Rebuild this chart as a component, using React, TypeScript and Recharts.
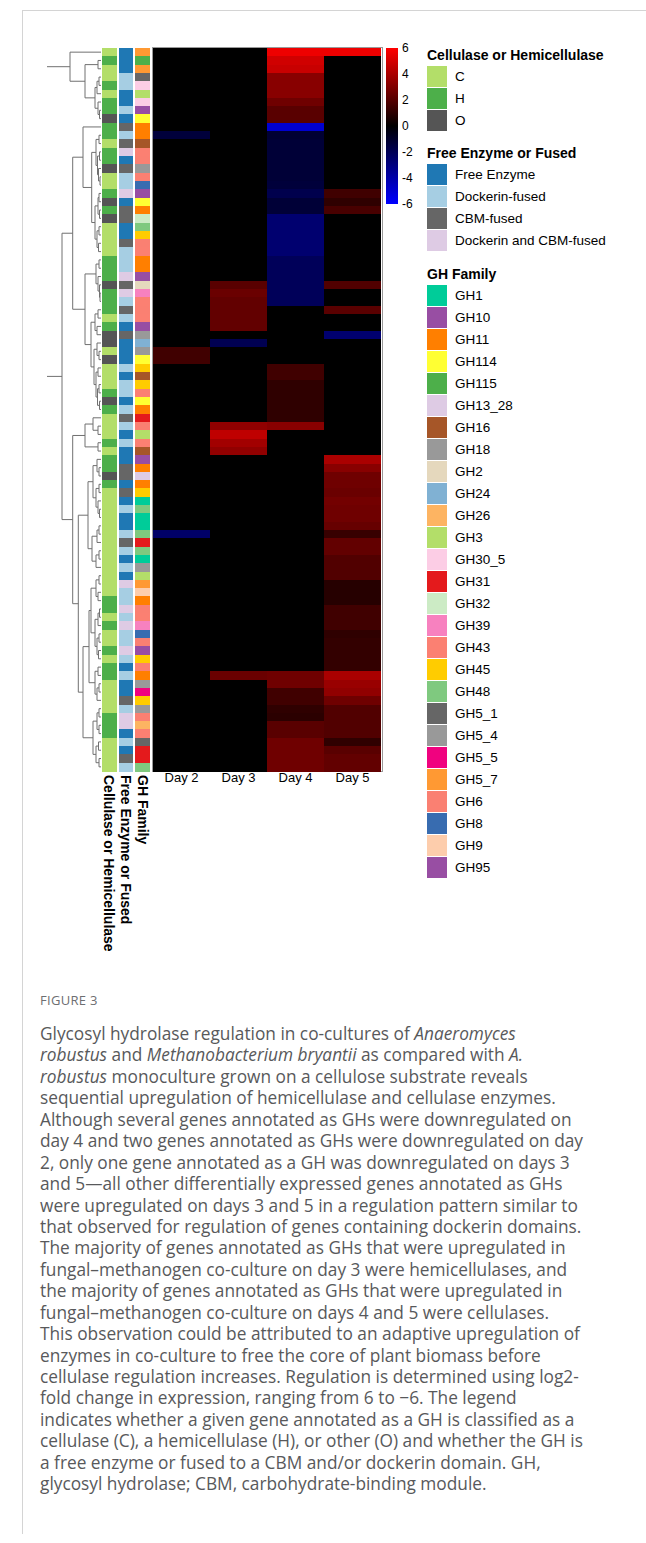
import React from 'react';
import { BarChart, Bar, XAxis, YAxis, Cell, LineChart, Line } from 'recharts';

// ---- row annotations (top to bottom, 87 genes) ----
// C = cellulase, H = hemicellulase, O = other
const rowCat = [
  'C', 'H', 'C', 'C', 'H', 'C', 'H', 'H', 'O', 'H',
  'H', 'C', 'H', 'H', 'O', 'C', 'C', 'H', 'O', 'H',
  'O', 'C', 'C', 'C', 'C', 'H', 'H', 'H', 'O', 'H',
  'H', 'H', 'C', 'H', 'O', 'O', 'C', 'O', 'C', 'C',
  'C', 'H', 'O', 'H', 'C', 'C', 'C', 'H', 'C', 'H',
  'H', 'O', 'H', 'C', 'C', 'C', 'C', 'C', 'C', 'C',
  'C', 'C', 'C', 'C', 'C', 'C', 'H', 'H', 'C', 'H',
  'C', 'C', 'H', 'C', 'H', 'H', 'C', 'C', 'C', 'C',
  'H', 'H', 'H', 'C', 'C', 'C', 'C',
];

// F = free, D = dockerin-fused, B = CBM-fused, X = dockerin and CBM-fused
const rowEnzyme = [
  'F', 'F', 'F', 'D', 'D', 'F', 'F', 'D', 'F', 'B',
  'D', 'B', 'X', 'F', 'B', 'D', 'D', 'X', 'F', 'B',
  'B', 'F', 'F', 'B', 'D', 'D', 'D', 'X', 'B', 'X',
  'D', 'B', 'D', 'F', 'B', 'F', 'F', 'F', 'D', 'F',
  'D', 'D', 'F', 'D', 'B', 'D', 'F', 'D', 'F', 'F',
  'B', 'B', 'F', 'B', 'F', 'D', 'F', 'F', 'D', 'B',
  'D', 'F', 'D', 'F', 'X', 'D', 'D', 'X', 'D', 'X',
  'D', 'D', 'X', 'D', 'F', 'D', 'F', 'F', 'B', 'D',
  'X', 'X', 'F', 'D', 'F', 'B', 'D',
];

const rowGH = [
  'GH5_7', 'GH115', 'GH5_7', 'GH5_1', 'GH30_5', 'GH3', 'GH30_5', 'GH10', 'GH114', 'GH11',
  'GH11', 'GH16', 'GH43', 'GH6', 'GH18', 'GH43', 'GH8', 'GH95', 'GH114', 'GH11',
  'GH32', 'GH48', 'GH45', 'GH6', 'GH43', 'GH11', 'GH11', 'GH10', 'GH2', 'GH39',
  'GH43', 'GH6', 'GH43', 'GH10', 'GH18', 'GH24', 'GH5_4', 'GH114', 'GH45', 'GH16',
  'GH45', 'GH43', 'GH114', 'GH11', 'GH31', 'GH6', 'GH3', 'GH43', 'GH16', 'GH95',
  'GH11', 'GH13_28', 'GH11', 'GH45', 'GH1', 'GH48', 'GH1', 'GH1', 'GH48', 'GH31',
  'GH48', 'GH1', 'GH18', 'GH3', 'GH5_7', 'GH9', 'GH11', 'GH6', 'GH43', 'GH39',
  'GH8', 'GH6', 'GH10', 'GH45', 'GH43', 'GH11', 'GH5_4', 'GH5_5', 'GH45', 'GH18',
  'GH6', 'GH26', 'GH43', 'GH5_1', 'GH31', 'GH31', 'GH48',
];

// ---- log2 fold change per day ----
const days = ['Day 2', 'Day 3', 'Day 4', 'Day 5'];
const day2 = [
  0, 0, 0, 0, 0, 0, 0, 0, 0, 0,
  -1.4, 0, 0, 0, 0, 0, 0, 0, 0, 0,
  0, 0, 0, 0, 0, 0, 0, 0, 0, 0,
  0, 0, 0, 0, 0, 0, 1.5, 1.5, 0, 0,
  0, 0, 0, 0, 0, 0, 0, 0, 0, 0,
  0, 0, 0, 0, 0, 0, 0, 0, -2.4, 0,
  0, 0, 0, 0, 0, 0, 0, 0, 0, 0,
  0, 0, 0, 0, 0, 0, 0, 0, 0, 0,
  0, 0, 0, 0, 0, 0, 0,
];
const day3 = [
  0, 0, 0, 0, 0, 0, 0, 0, 0, 0,
  0, 0, 0, 0, 0, 0, 0, 0, 0, 0,
  0, 0, 0, 0, 0, 0, 0, 0, 2.1, 2.5,
  2.3, 2.3, 2.3, 2.3, 0, -1.9, 0, 0, 0, 0,
  0, 0, 0, 0, 0, 3.4, 4.5, 3.8, 3.4, 0,
  0, 0, 0, 0, 0, 0, 0, 0, 0, 0,
  0, 0, 0, 0, 0, 0, 0, 0, 0, 0,
  0, 0, 0, 0, 0, 2.5, 0, 0, 0, 0,
  0, 0, 0, 0, 0, 0, 0,
];
const day4 = [
  5.6, 4.9, 4.7, 3.2, 3.2, 3.2, 2.6, 2.1, 2.1, -4.9,
  -1.2, -1.3, -1.3, -1.3, -1.3, -1.3, -1.4, -1.8, -1.3, -1.3,
  -2.6, -2.6, -2.6, -2.6, -2.6, -2.1, -2.1, -2.1, -2.1, -2.1,
  -2.1, 0, 0, 0, 0, 0, 0, 0, 1.5, 1.5,
  1.1, 1.1, 1.1, 1.1, 1.1, 3.2, 0, 0, 0, 0,
  0, 0, 0, 0, 0, 0, 0, 0, 0, 0,
  0, 0, 0, 0, 0, 0, 0, 0, 0, 0,
  0, 0, 0, 0, 0, 2.6, 2.6, 1.5, 1.5, 1.1,
  1.0, 2.1, 2.1, 2.6, 2.6, 2.6, 2.6,
];
const day5 = [
  5.6, 0, 0, 0, 0, 0, 0, 0, 0, 0,
  0, 0, 0, 0, 0, 0, 0, 1.5, 1.1, 1.7,
  0, 0, 0, 0, 0, 0, 0, 0, 1.9, 0,
  0, 2.1, 0, 0, -2.6, 0, 0, 0, 0, 0,
  0, 0, 0, 0, 0, 0, 0, 0, 0, 4.0,
  3.2, 2.6, 2.6, 2.5, 2.7, 2.6, 2.6, 2.4, 1.3, 2.3,
  2.3, 1.9, 1.9, 1.9, 0.9, 0.9, 0.9, 1.5, 1.5, 1.5,
  1.1, 1.2, 1.2, 1.2, 1.2, 4.0, 3.6, 3.4, 2.6, 1.9,
  1.9, 1.9, 1.9, 1.1, 2.1, 2.3, 2.3,
];
const dayValues = [day2, day3, day4, day5];
const colorTicks = [6, 4, 2, 0, -2, -4, -6];

// ---- dendrogram: [merge height, left, right], leaves are row indices ----
type Tree = number | [number, Tree, Tree];
const dendrogram: Tree = [54,
  [31, 0, [16, [3, 1, 2], [6, [4, [2, 3, 4], 5], [3, 6, [1.5, 7, 8]]]]],
  [39,
    [28.3,
      [18, 9, [9.3,
        [5, [2, 10, 11], [3.5, [1.5, 12, 13], [2.5, 14, [1, 15, 16]]]],
        [6, [3, [2, 17, 18], [1.5, 19, 20]], [4, [2, 21, 22], [2.5, 23, 24]]]]],
      [16,
        [5, [2, 25, 26], [3, 27, [1.5, 28, [1, 29, 30]]]],
        [10, [6, [3, 31, 32], [4, 33, 34]], [7, [4, 35, [2, 36, 37]], [5, [3, 38, 39], [3.5, [2, 40, 41], [1.5, 42, 43]]]]]]],
    [28.3,
      [16, [8, 44, [3, 45, 46]], [3, 47, 48]],
      [22.7,
        [13, [8, [4, 49, [2, 50, 51]], [5, [2, 52, 53], [3, 54, [1.5, 55, 56]]]], [9, [4, [2, 57, 58], 59], [5, [2, 60, 61], 62]]],
        [18,
          [12,
            [10, [5, [2, 63, 64], [3, 65, 66]], [6, [3, [1.5, 67, 68], 69], [4, [2, 70, 71], [2.5, 72, 73]]]],
            [6, [3, 74, 75], [4, [2, 76, 77], 78]]],
          [8, [4, [2, 79, 80], [2, 81, 82]], [5, [2.5, 83, 84], [2, 85, 86]]]]]]]];

// ---- legends ----
const catLabels = ['C', 'H', 'O'];
const catColors: Record<string, string> = { C: '#B3DE69', H: '#4DAF4A', O: '#555555' };
const enzymeCodes = ['F', 'D', 'B', 'X'];
const enzymeLabels = ['Free Enzyme', 'Dockerin-fused', 'CBM-fused', 'Dockerin and CBM-fused'];
const enzymeColors: Record<string, string> = { F: '#1F78B4', D: '#A6CEE3', B: '#666666', X: '#DECBE4' };
const ghFamilies = [
  'GH1', 'GH10', 'GH11', 'GH114', 'GH115', 'GH13_28', 'GH16', 'GH18', 'GH2', 'GH24',
  'GH26', 'GH3', 'GH30_5', 'GH31', 'GH32', 'GH39', 'GH43', 'GH45', 'GH48', 'GH5_1',
  'GH5_4', 'GH5_5', 'GH5_7', 'GH6', 'GH8', 'GH9', 'GH95',
];
const ghColors = [
  '#00CC99', '#984EA3', '#FF7F00', '#FFFF33', '#4DAF4A', '#DECBE4', '#A65628', '#999999', '#E5D8BD', '#80B1D3',
  '#FDB462', '#B3DE69', '#FCCDE5', '#E41A1C', '#CCEBC5', '#F781BF', '#FB8072', '#FFCC00', '#7FC97F', '#666666',
  '#999999', '#F0027F', '#FF9933', '#FA8072', '#386CB0', '#FDCDAC', '#984EA3',
];

const annoTitles = ['Cellulase or Hemicellulase', 'Free Enzyme or Fused', 'GH Family'];

const FONT = '"Liberation Sans", Arial, sans-serif';
const TOP = 48;
const HEAT_H = 723;

const genes = rowGH.map((_, i) => `gene${i + 1}`);
const heatRows = genes.map((g) => ({ gene: g, d2: 1, d3: 1, d4: 1, d5: 1 }));
const annoRows = genes.map((g) => ({ gene: g, cat: 1, enz: 1, gh: 1 }));
const dayKeys = ['d2', 'd3', 'd4', 'd5'];

function heatColor(v: number) {
  const t = Math.min(Math.abs(v), 6) / 6;
  const c = Math.round(t * 255);
  return v >= 0 ? `rgb(${c},0,0)` : `rgb(0,0,${c})`;
}

type Pt = { h: number; y: number };
function layoutTree(node: Tree, segs: Pt[][], root = false): Pt {
  if (typeof node === 'number') return { h: 0, y: node };
  const [h, l, r] = node;
  const a = layoutTree(l, segs);
  const b = layoutTree(r, segs);
  if (root) {
    segs.push([{ h, y: a.y }, { h: a.h, y: a.y }]);
    segs.push([{ h, y: b.y }, { h: b.h, y: b.y }]);
  } else {
    segs.push([{ h: a.h, y: a.y }, { h, y: a.y }, { h, y: b.y }, { h: b.h, y: b.y }]);
  }
  return { h, y: (a.y + b.y) / 2 };
}
const dendroSegs: Pt[][] = [];
layoutTree(dendrogram, dendroSegs, true);

// recharts truncates bar thickness to whole pixels; overlap rows and snap edges so no seams show
const InsetRect = (props: any) => (
  <rect
    x={props.x + 1}
    y={props.y}
    width={Math.max(props.width - 2, 0)}
    height={props.height + 1}
    fill={props.fill}
    shapeRendering="crispEdges"
  />
);
const HeatRect = (props: any) => (
  <rect x={props.x} y={props.y} width={props.width + 1} height={props.height + 1} fill={props.fill} shapeRendering="crispEdges" />
);

const AnnoTick = (props: any) => {
  const { x, y, payload } = props;
  return (
    <text
      x={x}
      y={y}
      transform={`rotate(90, ${x}, ${y})`}
      textAnchor="start"
      dominantBaseline="central"
      fontSize={14}
      fontWeight="bold"
      fontFamily={FONT}
      fill="#000"
    >
      {annoTitles[Math.floor(payload.value)]}
    </text>
  );
};

function LegendBlock({ title, top, labels, colors }: { title: string; top: number; labels: string[]; colors: string[] }) {
  return (
    <div style={{ position: 'absolute', left: 427, top, fontFamily: FONT }}>
      <div style={{ fontWeight: 'bold', fontSize: 14, height: 20, lineHeight: '20px', whiteSpace: 'nowrap' }}>{title}</div>
      {labels.map((l, i) => (
        <div key={l} style={{ position: 'absolute', top: 21 + i * 22, left: 0, display: 'flex', alignItems: 'center', whiteSpace: 'nowrap' }}>
          <div style={{ width: 20, height: 21, background: colors[i] }} />
          <span style={{ marginLeft: 8, fontSize: 13.5, lineHeight: '21px' }}>{l}</span>
        </div>
      ))}
    </div>
  );
}

const caption = [
  <>Glycosyl hydrolase regulation in co-cultures of <i>Anaeromyces</i></>,
  <><i>robustus</i> and <i>Methanobacterium bryantii</i> as compared with <i>A.</i></>,
  <><i>robustus</i> monoculture grown on a cellulose substrate reveals</>,
  <>sequential upregulation of hemicellulase and cellulase enzymes.</>,
  <>Although several genes annotated as GHs were downregulated on</>,
  <>day 4 and two genes annotated as GHs were downregulated on day</>,
  <>2, only one gene annotated as a GH was downregulated on days 3</>,
  <>and 5—all other differentially expressed genes annotated as GHs</>,
  <>were upregulated on days 3 and 5 in a regulation pattern similar to</>,
  <>that observed for regulation of genes containing dockerin domains.</>,
  <>The majority of genes annotated as GHs that were upregulated in</>,
  <>fungal–methanogen co-culture on day 3 were hemicellulases, and</>,
  <>the majority of genes annotated as GHs that were upregulated in</>,
  <>fungal–methanogen co-culture on days 4 and 5 were cellulases.</>,
  <>This observation could be attributed to an adaptive upregulation of</>,
  <>enzymes in co-culture to free the core of plant biomass before</>,
  <>cellulase regulation increases. Regulation is determined using log2-</>,
  <>fold change in expression, ranging from 6 to −6. The legend</>,
  <>indicates whether a given gene annotated as a GH is classified as a</>,
  <>cellulase (C), a hemicellulase (H), or other (O) and whether the GH is</>,
  <>a free enzyme or fused to a CBM and/or dockerin domain. GH,</>,
  <>glycosyl hydrolase; CBM, carbohydrate-binding module.</>,
];

export default function App() {
  return (
    <div style={{ position: 'absolute', left: 0, top: 0, width: 646, height: 1543, background: '#fff', overflow: 'hidden' }}>
      <div style={{ position: 'absolute', left: 22, top: 10, width: 624, height: 1523, borderTop: '1px solid #d4d4d4', borderLeft: '1px solid #d4d4d4' }} />

      {/* dendrogram */}
      <div style={{ position: 'absolute', left: 41, top: TOP }}>
        <LineChart width={60} height={HEAT_H} margin={{ top: 0, right: 0, bottom: 0, left: 0 }}>
          <XAxis dataKey="h" type="number" domain={[0, 60]} reversed hide />
          <YAxis dataKey="y" type="number" domain={[-0.5, 86.5]} reversed hide />
          {dendroSegs.map((s, i) => (
            <Line key={i} data={s} dataKey="y" type="linear" stroke="#707070" strokeWidth={1} dot={false} isAnimationActive={false} />
          ))}
        </LineChart>
      </div>

      {/* annotation columns */}
      <div style={{ position: 'absolute', left: 101, top: TOP }}>
        <BarChart layout="vertical" width={50} height={HEAT_H + 200} data={annoRows} margin={{ top: 0, right: 0, bottom: 0, left: 0 }} barCategoryGap={0}>
          <XAxis type="number" domain={[0, 3]} ticks={[0.5, 1.5, 2.5]} height={200} axisLine={false} tickLine={false} tickSize={0} tickMargin={4} tick={<AnnoTick />} interval={0} />
          <YAxis type="category" dataKey="gene" hide />
          <Bar dataKey="cat" stackId="a" isAnimationActive={false} shape={<InsetRect />}>
            {rowCat.map((c, i) => <Cell key={i} fill={catColors[c]} />)}
          </Bar>
          <Bar dataKey="enz" stackId="a" isAnimationActive={false} shape={<InsetRect />}>
            {rowEnzyme.map((c, i) => <Cell key={i} fill={enzymeColors[c]} />)}
          </Bar>
          <Bar dataKey="gh" stackId="a" isAnimationActive={false} shape={<InsetRect />}>
            {rowGH.map((g, i) => <Cell key={i} fill={ghColors[ghFamilies.indexOf(g)]} />)}
          </Bar>
        </BarChart>
      </div>

      {/* heatmap */}
      <div style={{ position: 'absolute', left: 152, top: TOP - 1, width: 229, height: HEAT_H, border: '1px solid #9a9a9a' }} />
      <div style={{ position: 'absolute', left: 153, top: TOP }}>
        <BarChart layout="vertical" width={228} height={HEAT_H + 30} data={heatRows} margin={{ top: 0, right: 0, bottom: 0, left: 0 }} barCategoryGap={0}>
          <XAxis
            type="number"
            domain={[0, 4]}
            ticks={[0.5, 1.5, 2.5, 3.5]}
            tickFormatter={(v: number) => days[Math.floor(v)]}
            height={30}
            axisLine={false}
            tickLine={false}
            tickSize={0}
            tickMargin={2}
            interval={0}
            tick={{ fontSize: 13, fill: '#000', fontFamily: FONT }}
          />
          <YAxis type="category" dataKey="gene" hide />
          {dayKeys.map((k, j) => (
            <Bar key={k} dataKey={k} stackId="h" isAnimationActive={false} shape={<HeatRect />}>
              {dayValues[j].map((v, i) => <Cell key={i} fill={heatColor(v)} />)}
            </Bar>
          ))}
        </BarChart>
      </div>

      {/* colour key */}
      <div style={{ position: 'absolute', left: 386, top: TOP - 6 }}>
        <BarChart width={42} height={168} data={[{ name: 'log2FC', range: [-6, 6] }]} margin={{ top: 6, right: 0, bottom: 6, left: 0 }} barCategoryGap={0}>
          <defs>
            <linearGradient id="fcGrad" x1="0" y1="0" x2="0" y2="1">
              <stop offset="0%" stopColor="#ff0000" />
              <stop offset="50%" stopColor="#000000" />
              <stop offset="100%" stopColor="#0000ff" />
            </linearGradient>
          </defs>
          <XAxis dataKey="name" hide />
          <YAxis
            orientation="right"
            type="number"
            domain={[-6, 6]}
            ticks={colorTicks}
            width={30}
            axisLine={false}
            tickLine={false}
            tickSize={0}
            tickMargin={4}
            interval={0}
            tick={{ fontSize: 12, fill: '#000', fontFamily: FONT, textAnchor: 'start' }}
          />
          <Bar dataKey="range" fill="url(#fcGrad)" isAnimationActive={false} />
        </BarChart>
      </div>

      <LegendBlock title="Cellulase or Hemicellulase" top={45} labels={catLabels} colors={catLabels.map((c) => catColors[c])} />
      <LegendBlock title="Free Enzyme or Fused" top={143} labels={enzymeLabels} colors={enzymeCodes.map((c) => enzymeColors[c])} />
      <LegendBlock title="GH Family" top={264} labels={ghFamilies} colors={ghColors} />

      {/* caption */}
      <div style={{ position: 'absolute', left: 40, top: 991, fontFamily: '"Open Sans", sans-serif', fontSize: 13, color: '#6d6e71', letterSpacing: 0.3 }}>
        FIGURE 3
      </div>
      <div style={{ position: 'absolute', left: 40, top: 1023, fontFamily: '"Open Sans", sans-serif', fontSize: 17.3, lineHeight: '21.43px', color: '#58595b', whiteSpace: 'nowrap' }}>
        {caption.map((c, i) => (
          <div key={i}>{c}</div>
        ))}
      </div>
    </div>
  );
}
